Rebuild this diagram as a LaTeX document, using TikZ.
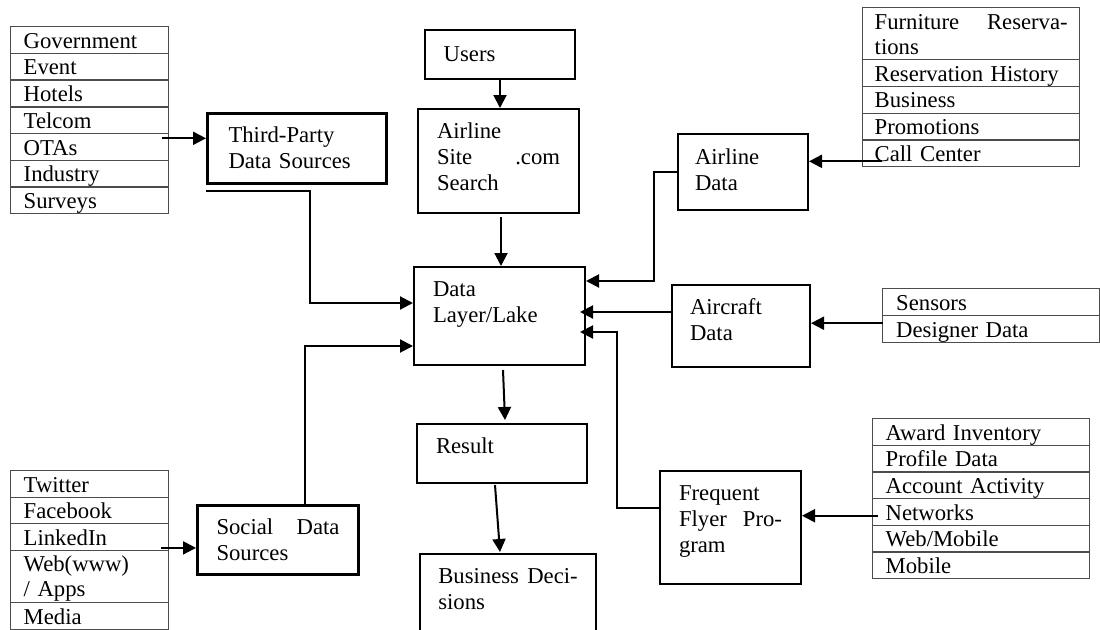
\documentclass[tikz,border=0pt]{standalone}
\usepackage{fontspec}
\setmainfont{Liberation Serif}
\usetikzlibrary{arrows.meta,calc}
\newcommand\fsbox{\fontsize{22.7pt}{26pt}\selectfont}
\newcommand\fscell{\fontsize{22.7pt}{25pt}\selectfont}
\begin{document}
\begin{tikzpicture}[x=1pt,y=-1pt,
 base/.style={anchor=north west, inner ysep=0pt, align=left, text=black},
 box/.style={base, draw, line width=2pt, font=\fsbox},
 tbox/.style={box, line width=3pt},
 cell/.style 2 args={base, draw=black!70, line width=1.4pt, font=\fscell, inner xsep=13pt, text width=#1, text height=21.5pt, text depth=#2},
 conn/.style={line width=2pt, -{Triangle[length=13pt,width=13pt]}}
]
\clip (0,0) rectangle (1100,629);
\fill[white] (0,0) rectangle (1100,629);

% left top table
\node[cell={132pt}{5.2pt}] (gov) at (10,26) {Government};
\node[cell={132pt}{5.2pt}] (event) at (10,52.7) {Event};
\node[cell={132pt}{5.2pt}] (hotels) at (10,79.4) {Hotels};
\node[cell={132pt}{5.2pt}] (telcom) at (10,106.1) {Telcom};
\node[cell={132pt}{5.2pt}] (otas) at (10,132.8) {OTAs};
\node[cell={132pt}{5.2pt}] (industry) at (10,159.5) {Industry};
\node[cell={132pt}{5.3pt}] (surveys) at (10,186.2) {Surveys};

% right top table
\node[cell={193pt}{30.5pt}, inner xsep=12pt] (furn) at (862,7) {Furniture\hfill Reserva-\\tions};
\node[cell={193pt}{5.25pt}, inner xsep=12pt] (reshist) at (862,59) {Reservation History};
\node[cell={193pt}{5.25pt}, inner xsep=12pt] (business) at (862,85.75) {Business};
\node[cell={193pt}{5.25pt}, inner xsep=12pt] (promo) at (862,112.5) {Promotions};
\node[cell={193pt}{5.25pt}, inner xsep=12pt] (callc) at (862,139.25) {Call Center};

% sensors table
\node[cell={190pt}{5.5pt}, inner xsep=13.5pt] (sensors) at (882,288) {Sensors};
\node[cell={190pt}{5.5pt}, inner xsep=13.5pt] (designer) at (882,315) {Designer Data};

% award table
\node[cell={191pt}{5.17pt}] (award) at (872,418) {Award Inventory};
\node[cell={191pt}{5.17pt}] (profile) at (872,444.67) {Profile Data};
\node[cell={191pt}{5.17pt}] (account) at (872,471.33) {Account Activity};
\node[cell={191pt}{5.17pt}] (networks) at (872,498) {Networks};
\node[cell={191pt}{5.17pt}] (webmob) at (872,524.67) {Web/Mobile};
\node[cell={191pt}{5.17pt}] (mobile) at (872,551.33) {Mobile};

% social table
\node[cell={132pt}{5pt}] (twitter) at (10,470) {Twitter};
\node[cell={132pt}{5pt}] (facebook) at (10,496.5) {Facebook};
\node[cell={132pt}{5pt}] (linkedin) at (10,523) {LinkedIn};
\node[cell={132pt}{31pt}] (web) at (10,549.5) {Web(www)\\/ Apps};
\node[cell={132pt}{5pt}] (media) at (10,602) {Media};

% main boxes
\node[tbox, inner xsep=21pt, text width=137pt, text height=28.7pt, text depth=41.3pt] (tp) at (206,112) {Third-Party\\Data Sources};
\node[box, inner xsep=18.7pt, text width=112.6pt, text height=31pt, text depth=18pt] (users) at (424,29) {Users};
\node[box, inner xsep=19pt, text width=123pt, text height=29.3pt, text depth=74.7pt] (site) at (417,108) {Airline\\Site\hfill .com\\Search};
\node[box, inner xsep=19pt, text width=133pt, text height=29pt, text depth=69pt] (lake) at (413,266) {Data\\Layer/Lake};
\node[box, inner xsep=17pt, text width=96pt, text height=30.3pt, text depth=45.7pt] (ad) at (677,133) {Airline\\Data};
\node[box, inner xsep=18pt, text width=102pt, text height=29.3pt, text depth=52.7pt] (ac) at (671,284) {Aircraft\\Data};
\node[box, inner xsep=19pt, text width=103pt, text height=29pt, text depth=84pt] (ff) at (659,470) {Frequent\\Flyer\hfill Pro-\\gram};
\node[box, inner xsep=19pt, text width=132pt, text height=29.7pt, text depth=29.3pt] (result) at (416,423) {Result};
\node[box, inner xsep=18.3pt, text width=139.4pt, text height=29.7pt, text depth=60.3pt] (bd) at (419,553) {Business\hfill Deci-\\sions};
\node[tbox, inner xsep=19pt, text width=123pt, text height=29.3pt, text depth=39.7pt] (social) at (196,504) {Social\hfill Data\\Sources};

% connectors
\coordinate (o1) at ($(otas.north east)+(-7,5.5)$);
\draw[conn] (o1) -- (o1 -| tp.west);
\coordinate (t1) at ($(tp.south west)+(0,6)$);
\draw[conn] (t1) -- ++(104,0) |- ($(lake.north west)+(0,37)$);
\draw[conn] (users.south) -- (users.south |- site.north);
\coordinate (s1) at ($(site.south)+(2.5,3)$);
\draw[conn] (s1) -- (s1 |- lake.north);
\draw[conn] (ad.west) -- ++(-23,0) |- ($(lake.north east)+(0,15)$);
\coordinate (c1) at ($(callc.west)+(20,8)$);
\draw[conn] (c1) -- (c1 -| ad.east);
\draw[conn] ($(ac.west)+(0,-14)$) -- ($(lake.east)+(-6,-4)$);
\coordinate (d1) at ($(designer.west)+(1,-6)$);
\draw[conn] (d1) -- (d1 -| ac.east);
\coordinate (n1) at ($(networks.west)+(6,3.7)$);
\draw[conn] (n1) -- (n1 -| ff.east);
\draw[conn] ($(ff.west)+(0,-19.5)$) -- ++(-42,0) |- ($(lake.east)+(-6,16)$);
\draw[conn] ($(lake.south)+(3.5,4)$) -- ($(result.north)+(3,-3)$);
\draw[conn] ($(result.south)+(-7,1)$) -- ($(bd.north)+(-8,-1)$);
\coordinate (l1) at ($(linkedin.south east)+(-8,-3)$);
\draw[conn] (l1) -- (l1 -| social.west);
\draw[conn] ($(social.north west)+(109,0)$) |- ($(lake.south west)+(0,-20)$);
\end{tikzpicture}
\end{document}
